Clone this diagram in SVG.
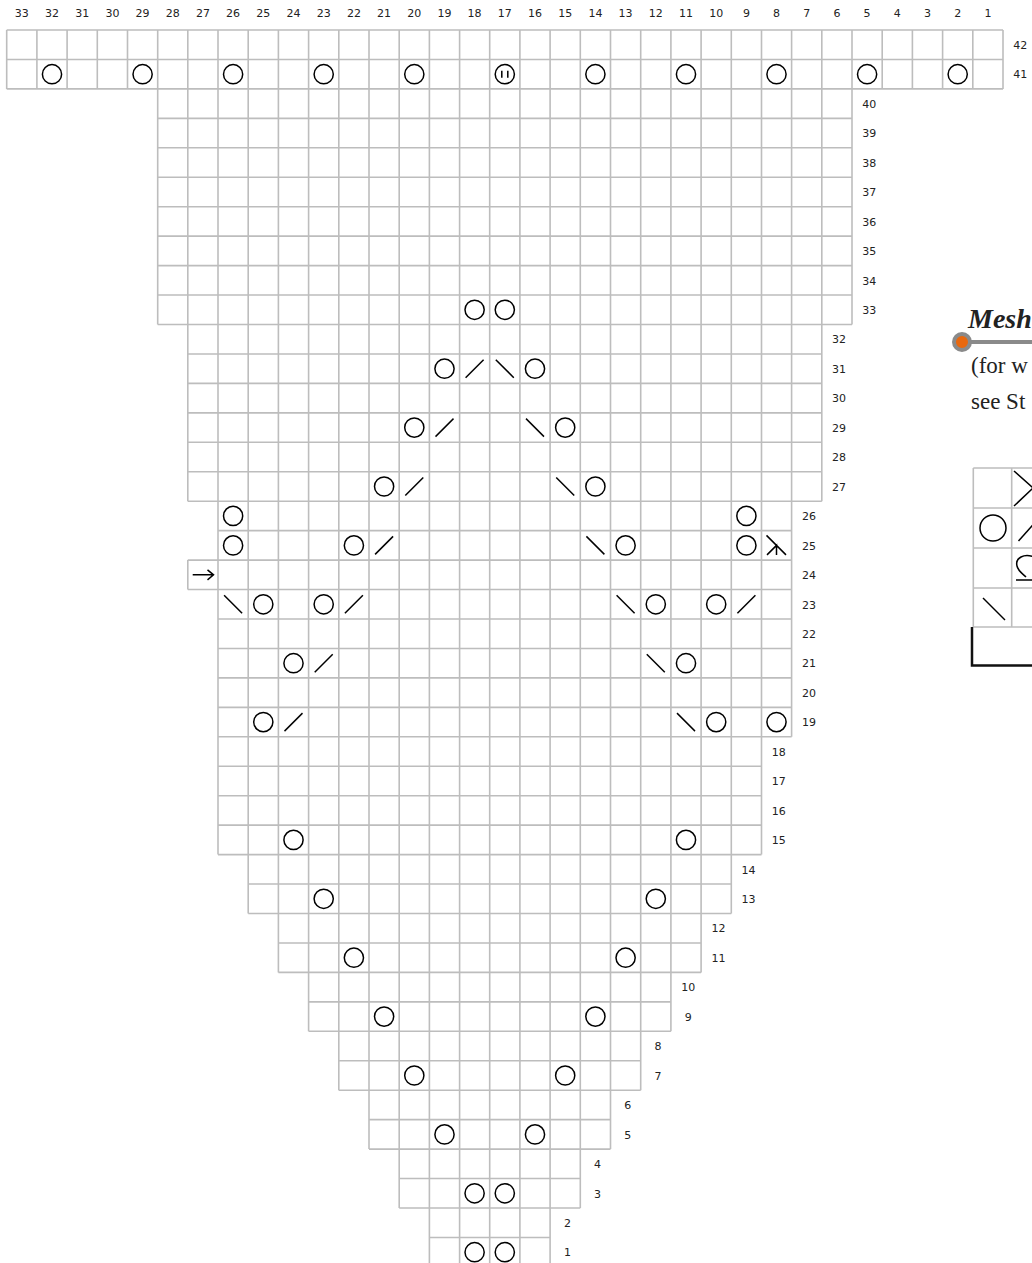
<svg xmlns="http://www.w3.org/2000/svg" xmlns:xlink="http://www.w3.org/1999/xlink" width="1032" height="1263" viewBox="0 0 1032 1263">
<style>
.num{font-family:"DejaVu Sans",sans-serif;font-size:11px;fill:#222;text-anchor:middle}
.grid{fill:none;stroke:#bdbdbd;stroke-width:1.6}
.sym{fill:none;stroke:#000;stroke-width:1.5}
.serif{font-family:"Liberation Serif","Times New Roman",serif;font-size:23px;fill:#222}
</style>
<defs>
<circle id="o" r="9.6"/>
<path id="r" d="M-9,9L9,-9"/>
<path id="l" d="M-9,-9L9,9"/>
<g id="ii"><circle r="9.6"/><path d="M-3,-3.5V3.5M3,-3.5V3.5"/></g>
<path id="cdd" d="M-10,-10L9.5,9.5M-9.5,9.5L0,0V9.5"/>
<path id="arr" d="M-10.2,0H10.5M4.6,-5L10.6,0L4.6,5"/>
</defs>
<rect width="1032" height="1263" fill="#fff"/>

<g id="column-labels" class="num">
<text x="21.8" y="16.5">33</text><text x="52" y="16.5">32</text><text x="82.2" y="16.5">31</text><text x="112.4" y="16.5">30</text><text x="142.6" y="16.5">29</text><text x="172.8" y="16.5">28</text><text x="202.9" y="16.5">27</text><text x="233.1" y="16.5">26</text><text x="263.3" y="16.5">25</text><text x="293.5" y="16.5">24</text><text x="323.7" y="16.5">23</text><text x="353.9" y="16.5">22</text><text x="384.1" y="16.5">21</text><text x="414.3" y="16.5">20</text><text x="444.5" y="16.5">19</text><text x="474.6" y="16.5">18</text><text x="504.8" y="16.5">17</text><text x="535" y="16.5">16</text><text x="565.2" y="16.5">15</text><text x="595.4" y="16.5">14</text><text x="625.6" y="16.5">13</text><text x="655.8" y="16.5">12</text><text x="686" y="16.5">11</text><text x="716.2" y="16.5">10</text><text x="746.4" y="16.5">9</text><text x="776.5" y="16.5">8</text><text x="806.7" y="16.5">7</text><text x="836.9" y="16.5">6</text><text x="867.1" y="16.5">5</text><text x="897.3" y="16.5">4</text><text x="927.5" y="16.5">3</text><text x="957.7" y="16.5">2</text><text x="987.9" y="16.5">1</text>
</g>

<g id="chart-grid" class="grid">
<path d="M6.7,30H1003M6.7,59.45H1003M6.7,88.9H1003
M157.7,118.35H852M157.7,147.8H852M157.7,177.25H852M157.7,206.7H852M157.7,236.15H852M157.7,265.6H852M157.7,295.05H852M157.7,324.5H852
M187.8,353.95H821.8M187.8,383.4H821.8M187.8,412.85H821.8M187.8,442.3H821.8M187.8,471.75H821.8M187.8,501.2H821.8
M218,530.65H791.6M187.8,560.1H791.6M187.8,589.55H791.6
M218,619H791.6M218,648.45H791.6M218,677.9H791.6M218,707.35H791.6M218,736.8H791.6
M218,766.25H761.5M218,795.7H761.5M218,825.15H761.5M218,854.6H761.5
M248.2,884.05H731.3M248.2,913.5H731.3
M278.4,942.95H701.1M278.4,972.4H701.1
M308.6,1001.85H670.9M308.6,1031.3H670.9
M338.8,1060.75H640.7M338.8,1090.2H640.7
M369,1119.65H610.5M369,1149.1H610.5
M399.2,1178.55H580.3M399.2,1208H580.3
M429.4,1237.45H550.1M429.4,1266.9H550.1"/>
<path d="M6.7,30V88.9M36.9,30V88.9M67.1,30V88.9M97.3,30V88.9M127.5,30V88.9
M882.2,30V88.9M912.4,30V88.9M942.6,30V88.9M972.8,30V88.9M1003,30V88.9
M157.7,30V324.5M852,30V324.5
M187.8,30V501.2M187.8,560.1V589.55M821.8,30V501.2
M218,30V854.6M761.5,30V854.6M791.6,30V736.8
M248.2,30V913.5M731.3,30V913.5
M278.4,30V972.4M701.1,30V972.4
M308.6,30V1031.3M670.9,30V1031.3
M338.8,30V1090.2M640.7,30V1090.2
M369,30V1149.1M610.5,30V1149.1
M399.2,30V1208M580.3,30V1208
M429.4,30V1266.9M459.6,30V1266.9M489.7,30V1266.9M519.9,30V1266.9M550.1,30V1266.9"/>
</g>

<g id="row-labels" class="num">
<text x="1020.3" y="48.9">42</text><text x="1020.3" y="78.4">41</text>
<text x="869.3" y="107.8">40</text><text x="869.3" y="137.3">39</text><text x="869.3" y="166.7">38</text><text x="869.3" y="196.2">37</text><text x="869.3" y="225.6">36</text><text x="869.3" y="255.1">35</text><text x="869.3" y="284.5">34</text><text x="869.3" y="314">33</text>
<text x="839.1" y="343.4">32</text><text x="839.1" y="372.9">31</text><text x="839.1" y="402.3">30</text><text x="839.1" y="431.8">29</text><text x="839.1" y="461.2">28</text><text x="839.1" y="490.7">27</text>
<text x="808.9" y="520.1">26</text><text x="808.9" y="549.6">25</text><text x="808.9" y="579">24</text><text x="808.9" y="608.5">23</text><text x="808.9" y="637.9">22</text><text x="808.9" y="667.4">21</text><text x="808.9" y="696.8">20</text><text x="808.9" y="726.3">19</text>
<text x="778.8" y="755.7">18</text><text x="778.8" y="785.2">17</text><text x="778.8" y="814.6">16</text><text x="778.8" y="844.1">15</text>
<text x="748.6" y="873.5">14</text><text x="748.6" y="903">13</text>
<text x="718.4" y="932.4">12</text><text x="718.4" y="961.9">11</text>
<text x="688.2" y="991.3">10</text><text x="688.2" y="1020.8">9</text>
<text x="658" y="1050.2">8</text><text x="658" y="1079.7">7</text>
<text x="627.8" y="1109.1">6</text><text x="627.8" y="1138.6">5</text>
<text x="597.6" y="1168">4</text><text x="597.6" y="1197.5">3</text>
<text x="567.4" y="1226.9">2</text><text x="567.4" y="1256.4">1</text>
</g>

<g id="chart-symbols" class="sym">
<use href="#o" x="52" y="74.2"/><use href="#o" x="142.6" y="74.2"/><use href="#o" x="233.1" y="74.2"/><use href="#o" x="323.7" y="74.2"/><use href="#o" x="414.3" y="74.2"/><use href="#ii" x="504.8" y="74.2"/><use href="#o" x="595.4" y="74.2"/><use href="#o" x="686" y="74.2"/><use href="#o" x="776.5" y="74.2"/><use href="#o" x="867.1" y="74.2"/><use href="#o" x="957.7" y="74.2"/>
<use href="#o" x="474.6" y="309.8"/><use href="#o" x="504.8" y="309.8"/>
<use href="#o" x="444.5" y="368.7"/><use href="#r" x="474.6" y="368.7"/><use href="#l" x="504.8" y="368.7"/><use href="#o" x="535" y="368.7"/>
<use href="#o" x="414.3" y="427.6"/><use href="#r" x="444.5" y="427.6"/><use href="#l" x="535" y="427.6"/><use href="#o" x="565.2" y="427.6"/>
<use href="#o" x="384.1" y="486.5"/><use href="#r" x="414.3" y="486.5"/><use href="#l" x="565.2" y="486.5"/><use href="#o" x="595.4" y="486.5"/>
<use href="#o" x="233.1" y="515.9"/><use href="#o" x="746.4" y="515.9"/>
<use href="#o" x="233.1" y="545.4"/><use href="#o" x="353.9" y="545.4"/><use href="#r" x="384.1" y="545.4"/><use href="#l" x="595.4" y="545.4"/><use href="#o" x="625.6" y="545.4"/><use href="#o" x="746.4" y="545.4"/><use href="#cdd" x="776.5" y="545.4"/>
<use href="#arr" x="202.9" y="574.8"/>
<use href="#l" x="233.1" y="604.3"/><use href="#o" x="263.3" y="604.3"/><use href="#o" x="323.7" y="604.3"/><use href="#r" x="353.9" y="604.3"/><use href="#l" x="625.6" y="604.3"/><use href="#o" x="655.8" y="604.3"/><use href="#o" x="716.2" y="604.3"/><use href="#r" x="746.4" y="604.3"/>
<use href="#o" x="293.5" y="663.2"/><use href="#r" x="323.7" y="663.2"/><use href="#l" x="655.8" y="663.2"/><use href="#o" x="686" y="663.2"/>
<use href="#o" x="263.3" y="722.1"/><use href="#r" x="293.5" y="722.1"/><use href="#l" x="686" y="722.1"/><use href="#o" x="716.2" y="722.1"/><use href="#o" x="776.5" y="722.1"/>
<use href="#o" x="293.5" y="839.9"/><use href="#o" x="686" y="839.9"/>
<use href="#o" x="323.7" y="898.8"/><use href="#o" x="655.8" y="898.8"/>
<use href="#o" x="353.9" y="957.7"/><use href="#o" x="625.6" y="957.7"/>
<use href="#o" x="384.1" y="1016.6"/><use href="#o" x="595.4" y="1016.6"/>
<use href="#o" x="414.3" y="1075.5"/><use href="#o" x="565.2" y="1075.5"/>
<use href="#o" x="444.5" y="1134.4"/><use href="#o" x="535" y="1134.4"/>
<use href="#o" x="474.6" y="1193.3"/><use href="#o" x="504.8" y="1193.3"/>
<use href="#o" x="474.6" y="1252.2"/><use href="#o" x="504.8" y="1252.2"/>
</g>

<g id="legend-title">
<text x="968" y="328" font-family="'Liberation Serif',serif" font-size="28" font-style="italic" font-weight="bold" fill="#222">Mesh</text>
<path d="M962,342H1034" stroke="#8a8a8a" stroke-width="4"/>
<circle cx="962" cy="342" r="8" fill="#e8680e" stroke="#8a8a8a" stroke-width="4"/>
<text class="serif" x="971" y="373">(for w</text>
<text class="serif" x="971" y="409">see St</text>
</g>

<g id="legend-key">
<path class="grid" d="M973.3,468H1050M973.3,508H1050M973.3,548H1050M973.3,588H1050M973.3,627H1050M973.3,468V627M1011.7,468V627"/>
<g class="sym">
<path d="M1014,471L1033,488L1014,506"/>
<circle cx="993" cy="528" r="13"/>
<path d="M1018.5,541L1040,517"/>
<path d="M1034,557C1024,553 1015,558 1017,566C1018,571 1023,574 1026,577M1016,580H1036"/>
<path d="M983,598L1005,620"/>
</g>
<path d="M972,627V665.5H1034" fill="none" stroke="#111" stroke-width="2.5"/>
</g>
</svg>
